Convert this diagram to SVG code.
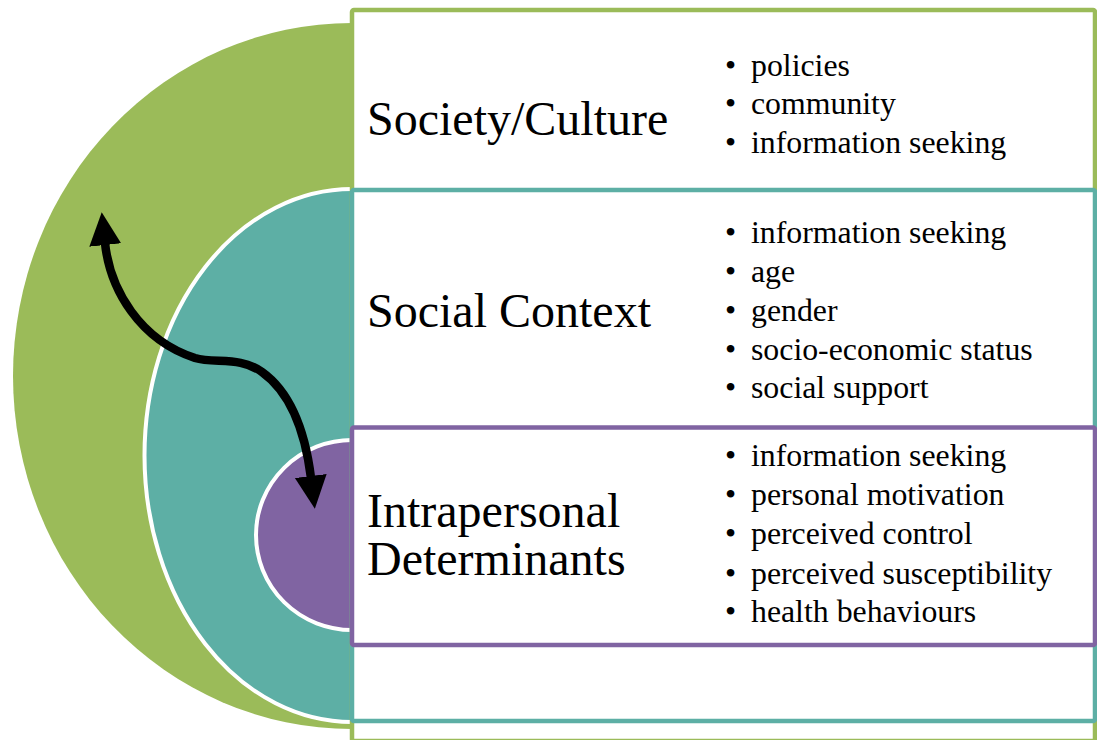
<svg xmlns="http://www.w3.org/2000/svg" width="1097" height="740" viewBox="0 0 1097 740">
<defs>
<style>
.title{font-family:"Liberation Serif","Times New Roman",serif;font-size:48px;fill:#000}
.item{font-family:"Liberation Serif","Times New Roman",serif;font-size:31.8px;fill:#000}
.box{fill:#fff;stroke-width:4.5}
.ring{stroke:#fff;stroke-width:4}
</style>
<marker id="ah" markerUnits="userSpaceOnUse" markerWidth="34" markerHeight="34" viewBox="0 0 34 34" refX="2" refY="17" orient="auto-start-reverse">
<path d="M0,1 L33,17 L0,33 Z" fill="#000"/>
</marker>
</defs>
<rect width="1097" height="740" fill="#fff"/>
<g id="society-shape">
<ellipse cx="352" cy="376" rx="339" ry="353" fill="#9BBB59"/>
</g>
<g id="social-shape">
<ellipse class="ring" cx="352" cy="455.5" rx="207.5" ry="266.5" fill="#5DAFA5"/>
</g>
<g id="intra-shape">
<ellipse class="ring" cx="352" cy="535" rx="96" ry="95" fill="#8064A2"/>
</g>
<g id="society-box">
<rect class="box" x="352" y="10" width="743" height="731" rx="2" stroke="#9BBB59"/>
<text class="title" x="367" y="135">Society/Culture</text>
<text class="item" x="725" y="76">•</text><text class="item" x="751" y="76">policies</text>
<text class="item" x="725" y="114">•</text><text class="item" x="751" y="114">community</text>
<text class="item" x="725" y="153">•</text><text class="item" x="751" y="153">information seeking</text>
</g>
<g id="social-box">
<rect class="box" x="352" y="190" width="743" height="531" rx="2" stroke="#5DAFA5"/>
<text class="title" x="367" y="327">Social Context</text>
<text class="item" x="725" y="243">•</text><text class="item" x="751" y="243">information seeking</text>
<text class="item" x="725" y="282">•</text><text class="item" x="751" y="282">age</text>
<text class="item" x="725" y="321">•</text><text class="item" x="751" y="321">gender</text>
<text class="item" x="725" y="360">•</text><text class="item" x="751" y="360">socio-economic status</text>
<text class="item" x="725" y="398">•</text><text class="item" x="751" y="398">social support</text>
</g>
<g id="intra-box">
<rect class="box" x="352" y="427.5" width="743" height="217.5" rx="2" stroke="#8064A2"/>
<text class="title" x="367" y="527">Intrapersonal</text>
<text class="title" x="367" y="575">Determinants</text>
<text class="item" x="725" y="466">•</text><text class="item" x="751" y="466">information seeking</text>
<text class="item" x="725" y="505">•</text><text class="item" x="751" y="505">personal motivation</text>
<text class="item" x="725" y="544">•</text><text class="item" x="751" y="544">perceived control</text>
<text class="item" x="725" y="584">•</text><text class="item" x="751" y="584">perceived susceptibility</text>
<text class="item" x="725" y="622">•</text><text class="item" x="751" y="622">health behaviours</text>
</g>
<g id="connectors">
<path d="M105,243 C110,290 140,340 195,358 C215,364 240,356 262,372 C290,392 305,430 311,478" fill="none" stroke="#000" stroke-width="8.5" marker-start="url(#ah)" marker-end="url(#ah)"/>
</g>
</svg>
